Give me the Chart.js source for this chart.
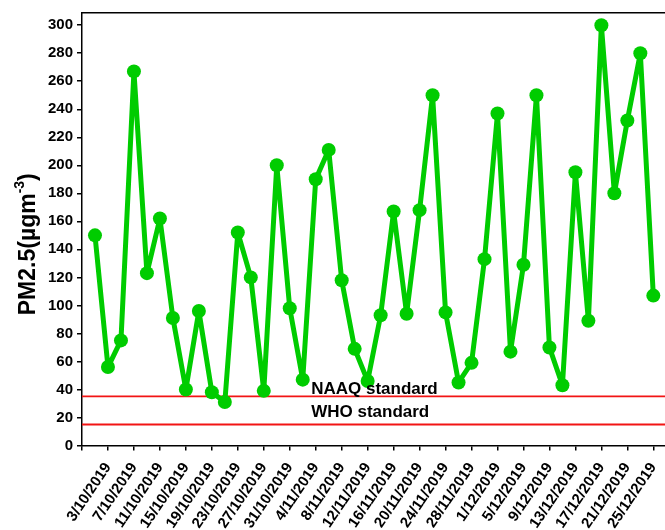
<!DOCTYPE html>
<html>
<head>
<meta charset="utf-8">
<script src="https://cdn.jsdelivr.net/npm/chart.js@4.4.1/dist/chart.umd.min.js"></script>
<style>
html,body{margin:0;padding:0;background:#fff;overflow:hidden;width:665px;height:530px}
#wrap{width:665px;height:530px;position:relative;overflow:hidden}
</style>
</head>
<body>
<div id="wrap"><canvas id="c" width="665" height="530"></canvas></div>
<script>
// ---- data ----
const tickLabels = ['3/10/2019','7/10/2019','11/10/2019','15/10/2019','19/10/2019','23/10/2019',
  '27/10/2019','31/10/2019','4/11/2019','8/11/2019','12/11/2019','16/11/2019','20/11/2019',
  '24/11/2019','28/11/2019','1/12/2019','5/12/2019','9/12/2019','13/12/2019','17/12/2019',
  '21/12/2019','25/12/2019'];
const pm25 = [150,56,75,267,123,162,91,40,96,38,31,152,120,39,200,98,47,190,211,118,
  69,46,93,167,94,168,250,95,45,59,133,237,67,129,250,70,43,195,89,300,180,232,280,107];
const naaqStandard = 35;
const whoStandard = 15;
const standardNames = ['NAAQ standard','WHO standard'];
const yTickStep = 20;

// ---- layout / style constants ----
const X_MIN = -1, X_MAX = 43.9, Y_MIN = 0, Y_MAX = 308.7;
const GREEN = '#00cc00', RED = '#f21414';
const FONT = "Arial, 'Liberation Sans', sans-serif";
const STD_LABEL_X = 16.65;          // in x-scale units
const STD_LABEL_Y = [36.5, 20];     // baseline positions in y-scale units

const mainPoints = pm25.map((v, i) => ({x: i, y: v}));
const hLine = v => [{x: X_MIN, y: v}, {x: X_MAX, y: v}];

const overlay = {
  id: 'overlay',
  afterDatasetsDraw(chart) {
    const {ctx, scales: {x, y}} = chart;
    ctx.save();
    ctx.fillStyle = '#000';
    ctx.font = 'bold 17px ' + FONT;
    ctx.textAlign = 'left';
    ctx.textBaseline = 'alphabetic';
    standardNames.forEach((t, i) => {
      ctx.fillText(t, x.getPixelForValue(STD_LABEL_X), y.getPixelForValue(STD_LABEL_Y[i]));
    });
    ctx.restore();
  },
  afterDraw(chart) {
    const {ctx, chartArea} = chart;
    ctx.save();
    const big = 'bold 23px ' + FONT, small = 'bold 14px ' + FONT;
    const p1 = 'PM2.5(\u00B5gm', p2 = '-3', p3 = ')';
    ctx.font = big; const w1 = ctx.measureText(p1).width, w3 = ctx.measureText(p3).width;
    ctx.font = small; const w2 = ctx.measureText(p2).width;
    const total = w1 + w2 + w3;
    const cy = (chartArea.top + chartArea.bottom) / 2 + 15;
    ctx.translate(35, cy);
    ctx.rotate(-Math.PI / 2);
    ctx.fillStyle = '#000';
    ctx.textBaseline = 'alphabetic';
    ctx.textAlign = 'left';
    let sx = -total / 2;
    ctx.font = big; ctx.fillText(p1, sx, 0); sx += w1;
    ctx.font = small; ctx.fillText(p2, sx, -11); sx += w2;
    ctx.font = big; ctx.fillText(p3, sx, 0);
    ctx.restore();
  }
};

new Chart(document.getElementById('c'), {
  type: 'line',
  data: {
    datasets: [
      {data: mainPoints, borderColor: GREEN, backgroundColor: GREEN, borderWidth: 5,
       borderJoinStyle: 'round', borderCapStyle: 'round',
       pointRadius: 7, pointHoverRadius: 7, pointBorderWidth: 0, pointBackgroundColor: GREEN, tension: 0},
      {data: hLine(naaqStandard), borderColor: RED, borderWidth: 1.8, pointRadius: 0},
      {data: hLine(whoStandard), borderColor: RED, borderWidth: 1.8, pointRadius: 0}
    ]
  },
  options: {
    responsive: false,
    devicePixelRatio: 1,
    animation: false,
    layout: {autoPadding: false, padding: {top: 12, left: 0, right: 0, bottom: 0}},
    plugins: {legend: {display: false}, tooltip: {enabled: false}},
    scales: {
      x: {
        type: 'linear', position: 'bottom', min: X_MIN, max: X_MAX,
        afterBuildTicks: s => { s.ticks = [{value: X_MIN}].concat(tickLabels.map((_, i) => ({value: 2 * i + 1}))); },
        afterFit: s => { s.height = 84.5; s.paddingLeft = 0; s.paddingRight = 0; },
        ticks: {
          autoSkip: false, minRotation: 56, maxRotation: 56, padding: 9,
          color: '#000', font: {family: FONT, size: 15, weight: 'bold'},
          callback: v => v < 0 ? '' : tickLabels[(v - 1) / 2]
        },
        grid: {drawOnChartArea: false, drawTicks: true, tickLength: 5, color: '#000', lineWidth: 1.5},
        border: {display: true, color: '#000', width: 1.5}
      },
      x2: {
        type: 'linear', position: 'top', min: X_MIN, max: X_MAX,
        afterFit: s => { s.height = 0; s.paddingLeft = 0; s.paddingRight = 0; },
        ticks: {display: false},
        grid: {drawOnChartArea: false, drawTicks: false},
        border: {display: true, color: '#000', width: 1.5}
      },
      y: {
        type: 'linear', min: Y_MIN, max: Y_MAX,
        afterFit: s => { s.width = 82; },
        ticks: {stepSize: yTickStep, includeBounds: false, padding: 4, color: '#000',
                font: {family: FONT, size: 15, weight: 'bold'}},
        grid: {drawOnChartArea: false, drawTicks: true, tickLength: 5, color: '#000', lineWidth: 1.5},
        border: {display: true, color: '#000', width: 1.5}
      }
    }
  },
  plugins: [overlay]
});
</script>
</body>
</html>
